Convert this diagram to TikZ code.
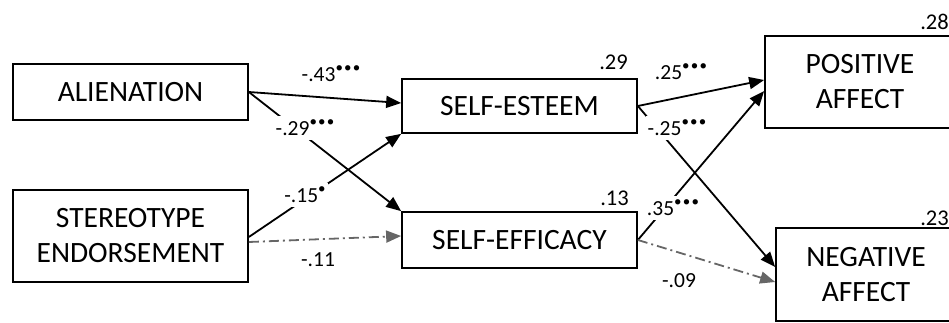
\documentclass[tikz,border=0pt]{standalone}
\usepackage{fontspec}
\setmainfont{Carlito}
\usetikzlibrary{arrows.meta}
% significance marks: raised round dots, slightly spaced
\newcommand\stars[1]{\raisebox{0.42em}{\fontsize{15}{15}\selectfont #1}}
\newcommand\dotsthree{•\kern1.2pt•\kern1.2pt•}
\begin{document}
\begin{tikzpicture}[x=1pt,y=-1pt,
  varbox/.style={draw, line width=1.7pt, inner sep=0pt, align=center,
    font=\fontsize{29.5}{35}\selectfont},
  path/.style={line width=1.8pt, -{Triangle[length=15pt,width=12pt]}},
  weakpath/.style={line width=1.8pt, draw=black!60, dash pattern=on 10pt off 4pt on 2pt off 4pt,
    -{Triangle[length=15pt,width=12pt]}},
  coef/.style={fill=white, inner xsep=2pt, inner ysep=4pt, font=\fontsize{21.5}{24}\selectfont},
  rsq/.style={inner sep=0pt, font=\fontsize{22.5}{25}\selectfont}]
\useasboundingbox (0,0) rectangle (949,323);
\clip (0,0) rectangle (949,323);

% variables
\node[varbox, minimum width=235pt, minimum height=56pt] (al) at (130.5,92) {ALIENATION};
\node[varbox, minimum width=235pt, minimum height=92pt] (st) at (130.5,236) {STEREOTYPE\\ENDORSEMENT};
\node[varbox, minimum width=235pt, minimum height=54pt] (se) at (519.5,106) {SELF-ESTEEM};
\node[varbox, minimum width=235pt, minimum height=56pt] (sf) at (519.5,240) {SELF-EFFICACY};
\node[varbox, minimum width=190pt, minimum height=92pt] (pa) at (860,82) {POSITIVE\\AFFECT};
\node[varbox, minimum width=180pt, minimum height=93pt] (na) at (866,274.5) {NEGATIVE\\AFFECT};

% explained variance
\node[rsq, anchor=east] (r1) at (628,62) {.29};
\node[rsq, anchor=east] (r2) at (629,198) {.13};
\node[rsq, anchor=east] (r3) at (949,22) {.28};
\node[rsq, anchor=east] (r4) at (949,218) {.23};

% paths
\draw[path] (al.east) -- ([yshift=3pt]se.west);
\draw[path] (al.east) -- (sf.north west);
\draw[path] ([yshift=-1pt]st.east) -- (se.south west);
\draw[weakpath] ([yshift=-6pt]st.east) -- ([yshift=4pt]sf.west);
\draw[path] (se.east) -- ([yshift=2pt]pa.west);
\draw[path] (sf.east) -- ([yshift=-9pt]pa.west);
\draw[path] (se.east) -- ([yshift=7.5pt]na.west);
\draw[weakpath] (sf.east) -- ([yshift=-7.5pt]na.west);

% path coefficients
\node[coef] (c1) at (331,74) {-.43\stars{\dotsthree}};
\node[coef] (c2) at (305,128) {-.29\stars{\dotsthree}};
\node[coef] (c3) at (305,195) {-.15\stars{•}};
\node[coef] (c4) at (318,260) {-.11};
\node[coef] (c5) at (681,72) {.25\stars{\dotsthree}};
\node[coef] (c6) at (677,128) {-.25\stars{\dotsthree}};
\node[coef] (c7) at (673,208) {.35\stars{\dotsthree}};
\node[coef] (c8) at (679,281) {-.09};
\end{tikzpicture}
\end{document}
